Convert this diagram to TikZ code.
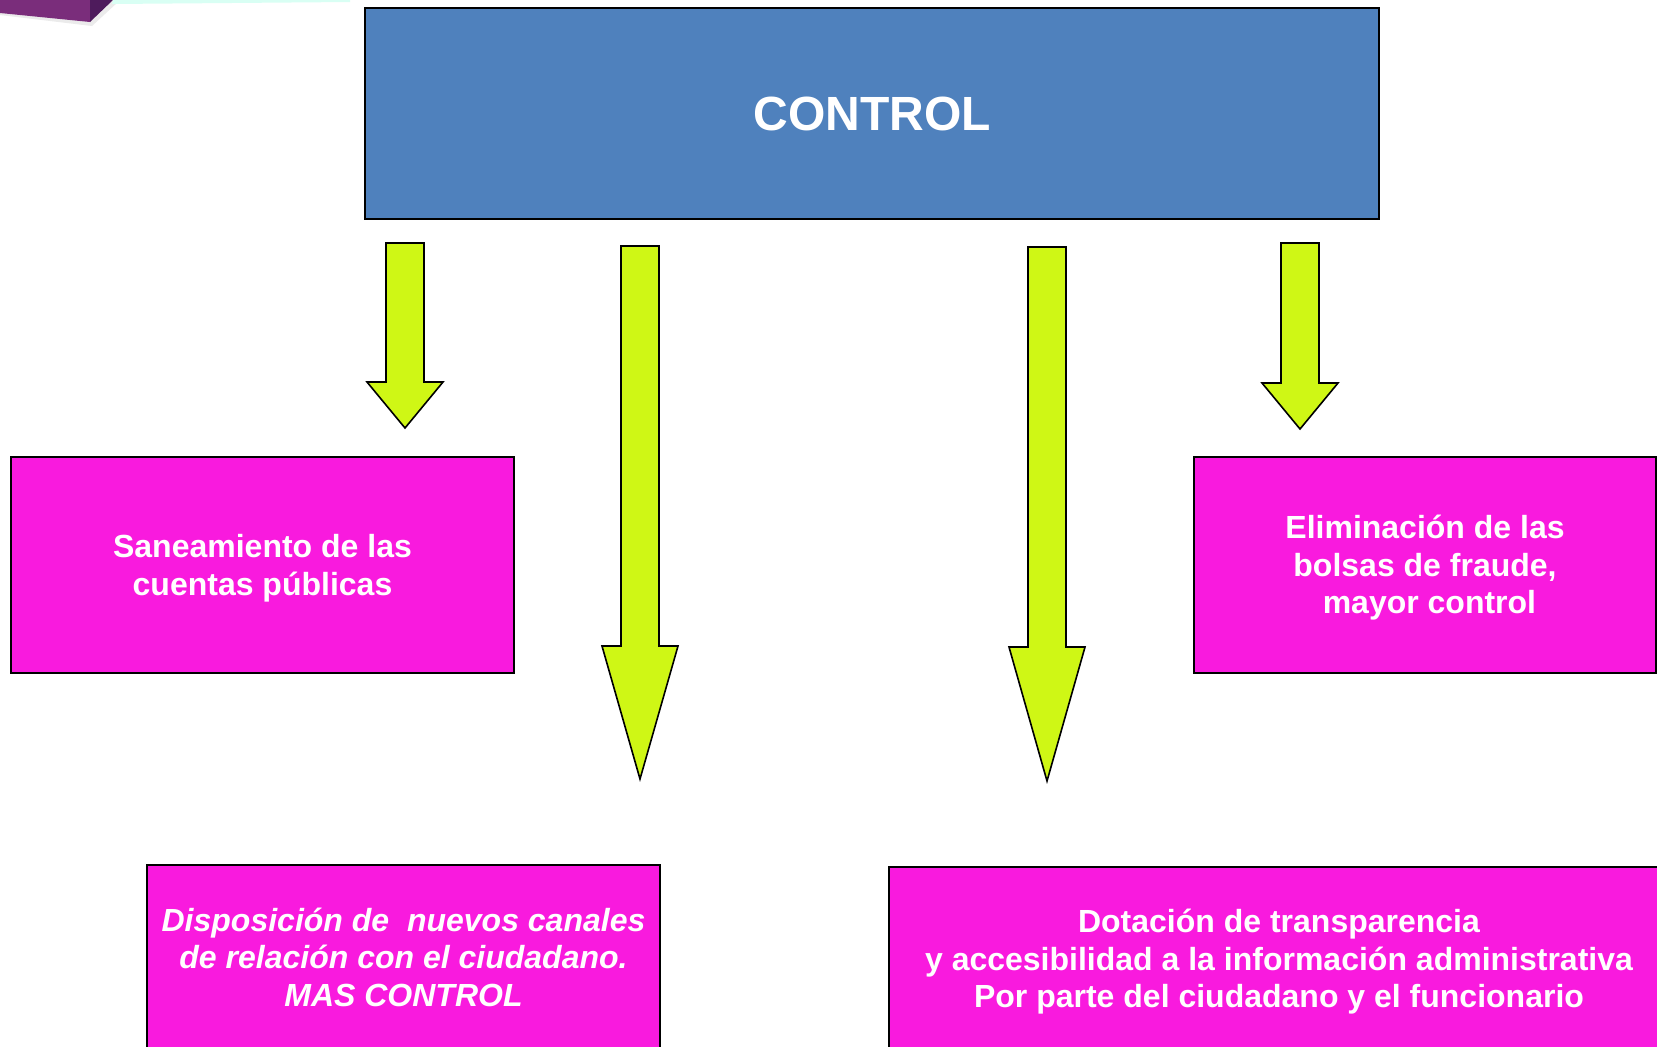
\documentclass[tikz,border=0pt]{standalone}
\usepackage{fontspec}
\setmainfont{Liberation Sans}
\usepackage{tikz}
\definecolor{ControlBlue}{HTML}{4F81BD}
\definecolor{BoxPink}{HTML}{F91ADE}
\definecolor{ArrowLime}{HTML}{CFF715}
\definecolor{CornerPurple}{HTML}{7A2D7B}
\definecolor{CornerDark}{HTML}{4E1B5C}
\newcommand{\lowerstrut}{\rule{0pt}{14.7pt}}
\tikzset{
    pinkbox/.style={draw=black, line width=1pt, fill=BoxPink, text=white,
        font=\bfseries\fontsize{16}{18.75}\selectfont, align=center,
        inner sep=0pt},
    limearrow/.style={draw=black, line width=0.8pt, fill=ArrowLime, line join=miter},
}

\begin{document}
\begin{tikzpicture}[x=0.5pt, y=-0.5pt]
            \useasboundingbox (0,0) rectangle (1657,1046);
            \fill [white] (0,0) rectangle (1657,1046);

            % Corner of the slide decoration
            \fill [black!8] (0,15) -- (92,26) -- (118,2) -- (113,0) -- (90,22) -- (0,13) -- cycle;
            \fill [CornerPurple] (0,0) -- (0,13) -- (90,22) -- (90,0) -- cycle;
            \fill [CornerDark] (90,0) -- (90,22) -- (113,0) -- cycle;
            \fill [green!30!cyan!15] (113,0) -- (350,0) -- (350,2) -- (112,4) -- cycle;

            % Control
            \node (control) at (872,113.5) [draw=black, line width=1pt, fill=ControlBlue,
                minimum width=507pt, minimum height=105.5pt, text=white,
                font=\bfseries\fontsize{24}{28}\selectfont] {CONTROL};

            % Arrows below the control box
            \foreach \cx/\ytop/\yshoulder/\ytip in {405/243/382/428, 640/246/646/779, 1047/247/647/781, 1300/243/383/429}
                \draw [limearrow] (\cx-19,\ytop) -- (\cx+19,\ytop) -- (\cx+19,\yshoulder) -- (\cx+38,\yshoulder)
                    -- (\cx,\ytip) -- (\cx-38,\yshoulder) -- (\cx-19,\yshoulder) -- cycle;

            % Upper boxes
            \node (saneamiento) at (262.5,565) [pinkbox, minimum width=251.5pt, minimum height=108pt]
                {\lowerstrut Saneamiento de las\\ cuentas públicas};
            \node (eliminacion) at (1425,565) [pinkbox, minimum width=231pt, minimum height=108pt]
                {\lowerstrut Eliminación de las\\ bolsas de fraude,\\ \ mayor control};

            % Lower boxes
            \node (disposicion) at (403.5,957) [pinkbox, minimum width=256.5pt, minimum height=92pt]
                {\itshape Disposición de \ nuevos canales\\ \itshape de relación con el ciudadano.\\ \itshape MAS CONTROL};
            \node (dotacion) at (1279,959) [pinkbox, minimum width=390pt, minimum height=92pt]
                {\lowerstrut Dotación de transparencia\\ y accesibilidad a la información administrativa\\ Por parte del ciudadano y el funcionario};
        \end{tikzpicture}
\end{document}
